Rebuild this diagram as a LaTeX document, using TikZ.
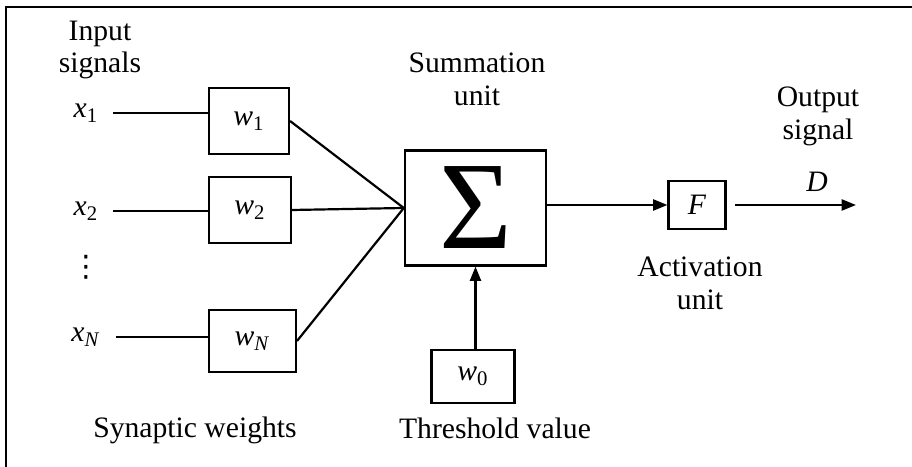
\documentclass[tikz,border=0pt]{standalone}
\usepackage{fontspec}
\setmainfont{Liberation Serif}
\newfontfamily\dejavu{DejaVu Sans}
\usetikzlibrary{positioning,arrows.meta}
\newcommand{\vsub}[2]{\textit{#1}\textsubscript{#2}}

\begin{document}
\begin{tikzpicture}[x=0.016cm,y=-0.016cm,>={Triangle[length=6.5pt,width=5pt]},line width=1pt,
    font=\fontsize{13.5}{15}\selectfont,
    wbox/.style={draw,minimum width=1.3cm,minimum height=1.05cm,inner sep=0pt},
    lbl/.style={align=center,inner sep=1pt}]
  \useasboundingbox (0,0) rectangle (912,467);
  % frame
  \draw[line width=1.3pt] (912,7) -- (6,7) -- (6,467);

  % inputs and weights
  \node (x1) at (86,113) {\vsub{x}{1}};
  \node (x2) at (86,211) {\vsub{x}{2}};
  \node (dots) at (86,267) {\dejavu ⋮};
  \node (xN) at (86,337) {\vsub{x}{\textit{N}}};
  \node[wbox,minimum width=1.28cm] (w1) at (249,121) {\vsub{w}{1}};
  \node[wbox,minimum width=1.31cm] (w2) at (250,210) {\vsub{w}{2}};
  \node[wbox,minimum width=1.39cm,minimum height=0.99cm] (wN) at (252.5,341) {\vsub{w}{\textit{N}}};
  \foreach \i in {1,2,N}{
    \draw[shorten <=3pt] (x\i.east) -- (x\i.east -| w\i.west);
  }

  % summation
  \node[draw,minimum width=2.26cm,minimum height=1.84cm,inner sep=0pt,
        font=\fontsize{57}{57}\selectfont] (sum) at (475.5,208) {Σ};
  \foreach \i in {1,2,N}{
    \draw (w\i.east) -- (sum.west);
  }
  \node[wbox,minimum width=1.33cm,minimum height=0.85cm] (w0) at (473,376.5) {\vsub{w}{0}};
  \draw[->] (w0.north -| sum.south) -- (sum.south);

  % activation and output
  \node[draw,minimum width=0.91cm,minimum height=0.78cm,inner sep=0pt] (F) at (697,205) {\textit{F}};
  \coordinate (D) at (856,205);
  \draw[->] (sum.east |- F.west) -- (F.west);
  \draw[->] ([xshift=4pt]F.east) -- (D);

  % labels
  \node[lbl] (inlbl) at (100,50) {Input\\signals};
  \node[lbl] (sumlbl) at (477,79) {Summation\\unit};
  \node[lbl] (outlbl) at (818,116) {Output\\signal};
  \node[lbl] (Dlbl) at (817,182) {\textit{D}};
  \node[lbl] (actlbl) at (700,283) {Activation\\unit};
  \node[lbl] (synlbl) at (195,430) {Synaptic weights};
  \node[lbl] (thrlbl) at (495,428) {Threshold value};
\end{tikzpicture}
\end{document}
